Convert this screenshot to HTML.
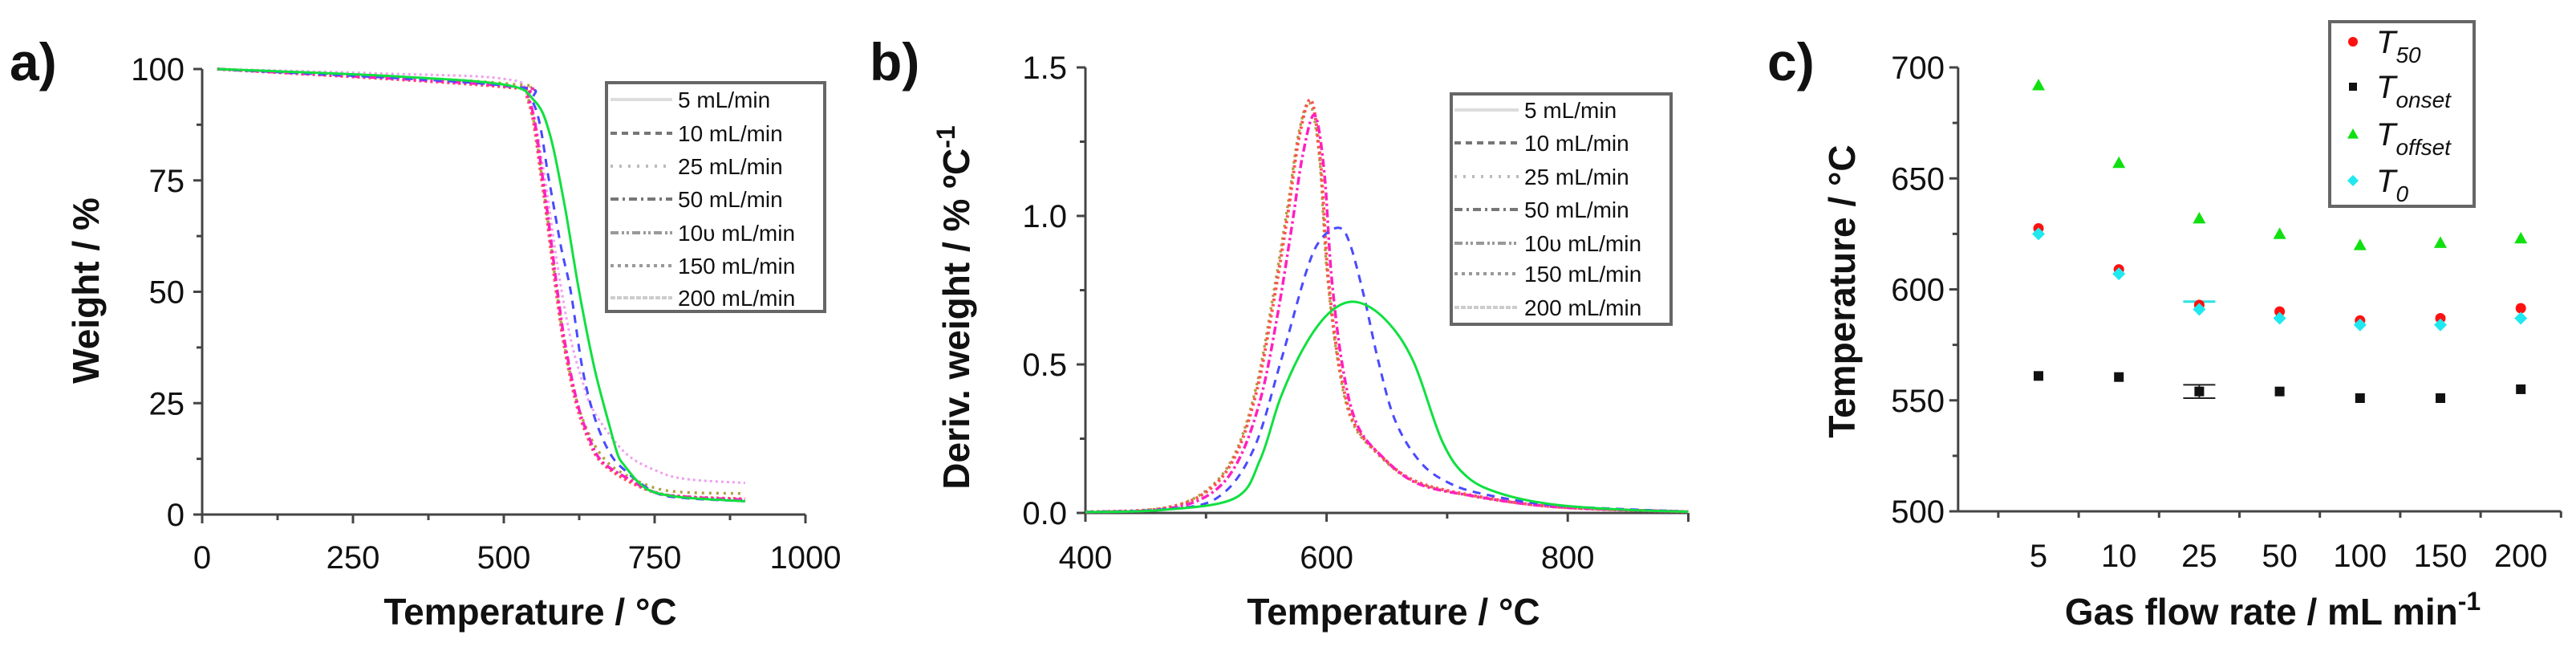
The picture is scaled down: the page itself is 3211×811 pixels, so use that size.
<!DOCTYPE html>
<html><head><meta charset="utf-8"><style>
html,body{margin:0;padding:0;background:#fff;}
svg{display:block;font-family:"Liberation Sans",sans-serif;}
.tick{font-size:40px;fill:#111;}
.title{font-size:46px;font-weight:bold;fill:#111;}
.plab{font-size:66px;font-weight:bold;fill:#111;}
.leg{font-size:28px;fill:#111;}
</style></head><body>
<svg id="fig" width="3211" height="811" viewBox="0 0 3211 811">
<g id="pa"></g>
<g id="pb"></g>
<g id="pc"></g>
</svg>
<script>
// ---------- Panel a data ----------
const aGreenT=[25,300,500,550,575,600,625,650,675,689,700,725,750,800,900];
const aGreenW=[100,98.5,96.5,93,86,70,50,33,20,13.4,11,7,5,3.8,3];
const aBlueT=[25,500,550,575,595,611,630,650,675,700,750,800,900];
const aBlueW=[100,96.3,92,75,60,50,33,22,14,10,5,3.7,3];
const aRedT=[25,500,540,563,587,600,620,640,660,700,750,800,900];
const aRedW=[100,96,93,75,50,38,25,17,12,8,5,4,3.5];
const aMagT=[25,500,542,565,589,602,622,642,662,700,750,800,900];
const aMagW=[100,96.2,93,75,50,38,25,17,12,8.5,5,4,3.3];
const aOliveT=[25,500,540,564,588,602,622,645,670,700,750,800,900];
const aOliveW=[100,96.8,93.5,75,50,37,25,17,12,9,6,5,4.7];
const aPinkT=[25,300,500,540,565,590,610,630,650,700,750,800,900];
const aPinkW=[100,99,97.8,94,78,55,40,30,23,14,10,8,7.1];
const aTicksX=[0,250,500,750,1000];
const aTicksY=[0,25,50,75,100];
// ---------- Panel b data ----------
const bGreenT=[400,464,524,545,562,583,604,625,649,672,696,717,747,791,850,900];
const bGreenD=[0.003,0.01,0.05,0.18,0.39,0.57,0.68,0.71,0.65,0.51,0.24,0.12,0.062,0.027,0.01,0.004];
const bBlueT=[400,464,509,539,562,583,595,610,619,631,643,657,678,702,732,791,900];
const bBlueD=[0.003,0.012,0.05,0.21,0.51,0.81,0.92,0.96,0.91,0.73,0.51,0.31,0.17,0.10,0.062,0.025,0.004];
const bRedT=[400,464,500,524,542,556,568,577,587,595,601,610,622,643,672,717,791,900];
const bRedD=[0.003,0.015,0.07,0.19,0.41,0.71,1.01,1.26,1.39,1.18,0.81,0.51,0.31,0.2,0.11,0.062,0.02,0.004];
const bMagT=[400,464,502,526,545,559,571,580,590,598,604,613,625,646,675,720,791,900];
const bMagD=[0.003,0.012,0.06,0.17,0.38,0.66,0.96,1.2,1.34,1.15,0.8,0.5,0.3,0.19,0.1,0.058,0.02,0.004];
const bOliveT=[400,464,500,524,542,556,568,577,586,594,600,609,621,642,671,716,791,900];
const bOliveD=[0.003,0.016,0.075,0.2,0.43,0.74,1.04,1.28,1.38,1.2,0.83,0.52,0.31,0.2,0.11,0.06,0.02,0.004];
const bTicksX=[400,600,800];
const bTicksY=[0,0.5,1.0,1.5];
const flowLabels=["5 mL/min","10 mL/min","25 mL/min","50 mL/min","10υ mL/min","150 mL/min","200 mL/min"];
// ---------- Panel c data ----------
const cCats=["5","10","25","50","100","150","200"];
const cT50=[627.5,609,593,590,586,587,591.5];
const cTonset=[561,560.5,554,554,551,551,555];
const cToffset=[692,657,632,625,620,621,623];
const cT0=[625,607,591,587,584,584,587];
const cTicksY=[500,550,600,650,700];

const NS="http://www.w3.org/2000/svg";
function mk(parent,tag,attrs,text){const e=document.createElementNS(NS,tag);for(const k in attrs)e.setAttribute(k,attrs[k]);if(text!==undefined)e.textContent=text;parent.appendChild(e);return e;}

// ===== Panel a =====
const pa=document.getElementById('pa');
const ax=v=>252+v*0.752, ay=v=>641-v*5.55;
function axesGeneric(g,x0,x1,y0,y1){
  const l1=mk(g,'line',{x1:x0,y1:y0,x2:x1,y2:y0,stroke:'#444','stroke-width':3});
  
  const l2=mk(g,'line',{x1:x0,y1:y0,x2:x0,y2:y1,stroke:'#444','stroke-width':3});
  
}
axesGeneric(pa,ax(0),ax(1000),ay(0),ay(100));
for(let i=0;i<aTicksX.length;i++){
  const v=aTicksX[i];
  mk(pa,'line',{x1:ax(v),y1:ay(0),x2:ax(v),y2:ay(0)+11,stroke:'#444','stroke-width':3});
  const t=mk(pa,'text',{x:ax(v),y:708,'text-anchor':'middle',class:'tick'},String(v));
  
  if(i<aTicksX.length-1) mk(pa,'line',{x1:ax(v+125),y1:ay(0),x2:ax(v+125),y2:ay(0)+7,stroke:'#444','stroke-width':3});
}
for(let i=0;i<aTicksY.length;i++){
  const v=aTicksY[i];
  mk(pa,'line',{x1:ax(0),y1:ay(v),x2:ax(0)-11,y2:ay(v),stroke:'#444','stroke-width':3});
  const t=mk(pa,'text',{x:230,y:ay(v)+14,'text-anchor':'end',class:'tick'},String(v));
  
  if(i<aTicksY.length-1) mk(pa,'line',{x1:ax(0),y1:ay(v+12.5),x2:ax(0)-7,y2:ay(v+12.5),stroke:'#444','stroke-width':3});
}
function series(g,xs,ys,fx,fy,color,dash,w,name){
  const P=xs.map((x,i)=>[fx(x),fy(ys[i])]);
  let d='M'+P[0][0].toFixed(1)+','+P[0][1].toFixed(1);
  for(let i=0;i<P.length-1;i++){
    const p0=P[Math.max(0,i-1)],p1=P[i],p2=P[i+1],p3=P[Math.min(P.length-1,i+2)];
    const c1=[p1[0]+(p2[0]-p0[0])/6,p1[1]+(p2[1]-p0[1])/6];
    const c2=[p2[0]-(p3[0]-p1[0])/6,p2[1]-(p3[1]-p1[1])/6];
    d+=' C'+c1[0].toFixed(1)+','+c1[1].toFixed(1)+' '+c2[0].toFixed(1)+','+c2[1].toFixed(1)+' '+p2[0].toFixed(1)+','+p2[1].toFixed(1);
  }
  const p=mk(g,'path',{d:d,fill:'none',stroke:color,'stroke-width':w,'stroke-dasharray':dash,'stroke-linejoin':'round'});
  
}
series(pa,aPinkT,aPinkW,ax,ay,'#f0a0f0','3,4',3,'curve-200');
series(pa,aOliveT,aOliveW,ax,ay,'#b0a040','3,6',3.5,'curve-150');
series(pa,aRedT,aRedW,ax,ay,'#ff5050','3,4',4,'curve-25');
series(pa,aMagT,aMagW,ax,ay,'#ff20c0','10,4,3,4',3.5,'curve-50');
series(pa,aBlueT,aBlueW,ax,ay,'#4a4aff','10,8',3,'curve-10');
series(pa,aGreenT,aGreenW,ax,ay,'#10e040','',3,'curve-5');
const ta=mk(pa,'text',{x:661,y:778,'text-anchor':'middle',class:'title'},'Temperature / °C');

const tya=mk(pa,'text',{x:0,y:0,'text-anchor':'middle',class:'title',transform:'translate(123,362) rotate(-90)'},'Weight / %');

const la=mk(pa,'text',{x:12,y:100,class:'plab'},'a)');

const legDash=['2,0','8,6','3,8','10,5,3,5','10,4,3,3,3,4','4,5','6,2'];
const legCol=['#ddd','#777','#bbb','#777','#999','#999','#ccc'];
function legend(g,x,y,w,h,lx1,lx2,tx,ys,name){
  const r=mk(g,'rect',{x:x,y:y,width:w,height:h,fill:'#fff',stroke:'#666','stroke-width':4});
  
  for(let i=0;i<flowLabels.length;i++){
    mk(g,'line',{x1:lx1,y1:ys[i],x2:lx2,y2:ys[i],stroke:legCol[i],'stroke-width':4,'stroke-dasharray':legDash[i]});
    const t=mk(g,'text',{x:tx,y:ys[i]+10,class:'leg'},flowLabels[i]);
    
  }
}
legend(pa,756,103,272,285,761,838,845,[124,166,207,248,290,331,371],'legend-a');

// ===== Panel b =====
const pb=document.getElementById('pb');
const bx=v=>1353+(v-400)*1.503, by=v=>639-v*370;
axesGeneric(pb,bx(400),bx(900),by(0),by(1.5));
for(let i=0;i<bTicksX.length;i++){
  const v=bTicksX[i];
  mk(pb,'line',{x1:bx(v),y1:by(0),x2:bx(v),y2:by(0)+11,stroke:'#444','stroke-width':3});
  const t=mk(pb,'text',{x:bx(v),y:708,'text-anchor':'middle',class:'tick'},String(v));
  
  mk(pb,'line',{x1:bx(v+100),y1:by(0),x2:bx(v+100),y2:by(0)+7,stroke:'#444','stroke-width':3});
}
mk(pb,'line',{x1:bx(900),y1:by(0),x2:bx(900),y2:by(0)+11,stroke:'#444','stroke-width':3});
for(let i=0;i<bTicksY.length;i++){
  const v=bTicksY[i];
  mk(pb,'line',{x1:bx(400),y1:by(v),x2:bx(400)-11,y2:by(v),stroke:'#444','stroke-width':3});
  const t=mk(pb,'text',{x:1330,y:by(v)+14,'text-anchor':'end',class:'tick'},v.toFixed(1));
  
  if(i<bTicksY.length-1) mk(pb,'line',{x1:bx(400),y1:by(v+0.25),x2:bx(400)-7,y2:by(v+0.25),stroke:'#444','stroke-width':3});
}
series(pb,bOliveT,bOliveD,bx,by,'#b0a040','3,5',3.5,'dtg-150');
series(pb,bRedT,bRedD,bx,by,'#ff5050','3,4',4,'dtg-25');
series(pb,bMagT,bMagD,bx,by,'#ff20c0','10,4,3,4',3.5,'dtg-50');
series(pb,bBlueT,bBlueD,bx,by,'#4a4aff','10,8',3,'dtg-10');
series(pb,bGreenT,bGreenD,bx,by,'#10e040','',3,'dtg-5');
const tb=mk(pb,'text',{x:1737,y:778,'text-anchor':'middle',class:'title'},'Temperature / °C');

const tyb=mk(pb,'text',{x:0,y:0,'text-anchor':'middle',class:'title',transform:'translate(1208,383) rotate(-90)'});

mk(tyb,'tspan',{},'Deriv. weight / % ºC');
mk(tyb,'tspan',{dy:-18,'font-size':32},'-1');
const lb=mk(pb,'text',{x:1084,y:100,class:'plab'},'b)');

legend(pb,1809,117,274,287,1813,1893,1900,[137,178,220,261,303,341,383],'legend-b');

// ===== Panel c =====
const pc=document.getElementById('pc');
const cx=i=>2541+i*100.2, cy=v=>637-(v-500)*2.765;
axesGeneric(pc,cx(-1),cx(6.5),cy(500),cy(700));
for(let i=0;i<cCats.length;i++){
  const t=mk(pc,'text',{x:cx(i),y:706,'text-anchor':'middle',class:'tick'},cCats[i]);
  
}
for(let i=-0.5;i<=6.5;i+=1) mk(pc,'line',{x1:cx(i),y1:cy(500),x2:cx(i),y2:cy(500)+8,stroke:'#444','stroke-width':3});
for(let i=0;i<cTicksY.length;i++){
  const v=cTicksY[i];
  mk(pc,'line',{x1:cx(-1),y1:cy(v),x2:cx(-1)-11,y2:cy(v),stroke:'#444','stroke-width':3});
  const t=mk(pc,'text',{x:2424,y:cy(v)+14,'text-anchor':'end',class:'tick'},String(v));
  
  if(i<cTicksY.length-1) mk(pc,'line',{x1:cx(-1),y1:cy(v+25),x2:cx(-1)-7,y2:cy(v+25),stroke:'#444','stroke-width':3});
}
mk(pc,'line',{x1:cx(2)-20,y1:cy(594.5),x2:cx(2)+20,y2:cy(594.5),stroke:'#30e0e0','stroke-width':3});
mk(pc,'line',{x1:cx(2)-20,y1:cy(557),x2:cx(2)+20,y2:cy(557),stroke:'#222','stroke-width':2});
mk(pc,'line',{x1:cx(2)-20,y1:cy(551),x2:cx(2)+20,y2:cy(551),stroke:'#222','stroke-width':2});
mk(pc,'line',{x1:cx(2),y1:cy(557),x2:cx(2),y2:cy(551),stroke:'#222','stroke-width':2});
function tri(x,y,s){return `${x},${y-s} ${x-s},${y+s*0.8} ${x+s},${y+s*0.8}`;}
function dia(x,y,s){return `${x},${y-s} ${x+s},${y} ${x},${y+s} ${x-s},${y}`;}
for(let i=0;i<cCats.length;i++){
  const a=mk(pc,'polygon',{points:tri(cx(i),cy(cToffset[i]),8),fill:'#10e010'});
  
  const b=mk(pc,'circle',{cx:cx(i),cy:cy(cT50[i]),r:6.5,fill:'#ff1010'});
  
  const c=mk(pc,'polygon',{points:dia(cx(i),cy(cT0[i]),8),fill:'#20e8f0'});
  
  const d=mk(pc,'rect',{x:cx(i)-6,y:cy(cTonset[i])-6,width:12,height:12,fill:'#111'});
  
}
const tc=mk(pc,'text',{x:2833,y:778,'text-anchor':'middle',class:'title'});

mk(tc,'tspan',{},'Gas flow rate / mL min');
mk(tc,'tspan',{dy:-18,'font-size':32},'-1');
const tyc=mk(pc,'text',{x:0,y:0,'text-anchor':'middle',class:'title',transform:'translate(2312,363) rotate(-90)'},'Temperature / °C');

const lc=mk(pc,'text',{x:2203,y:100,class:'plab'},'c)');

const lgc=mk(pc,'rect',{x:2904,y:27,width:180,height:230,fill:'#fff',stroke:'#666','stroke-width':4});

mk(pc,'circle',{cx:2933,cy:52,r:6,fill:'#ff1010'});
mk(pc,'rect',{x:2928,y:103,width:10,height:10,fill:'#111'});
mk(pc,'polygon',{points:tri(2933,167,7),fill:'#10e010'});
mk(pc,'polygon',{points:dia(2933,225,7),fill:'#20e8f0'});
const legC=[['50',52],['onset',108],['offset',167],['0',225]];
for(const [sub,y] of legC){
  const t=mk(pc,'text',{x:2962,y:y+14,'font-size':40,'font-style':'italic',fill:'#111'});
  
  mk(t,'tspan',{},'T');
  mk(t,'tspan',{dy:12,'font-size':28},sub);
}
</script>
</body></html>
